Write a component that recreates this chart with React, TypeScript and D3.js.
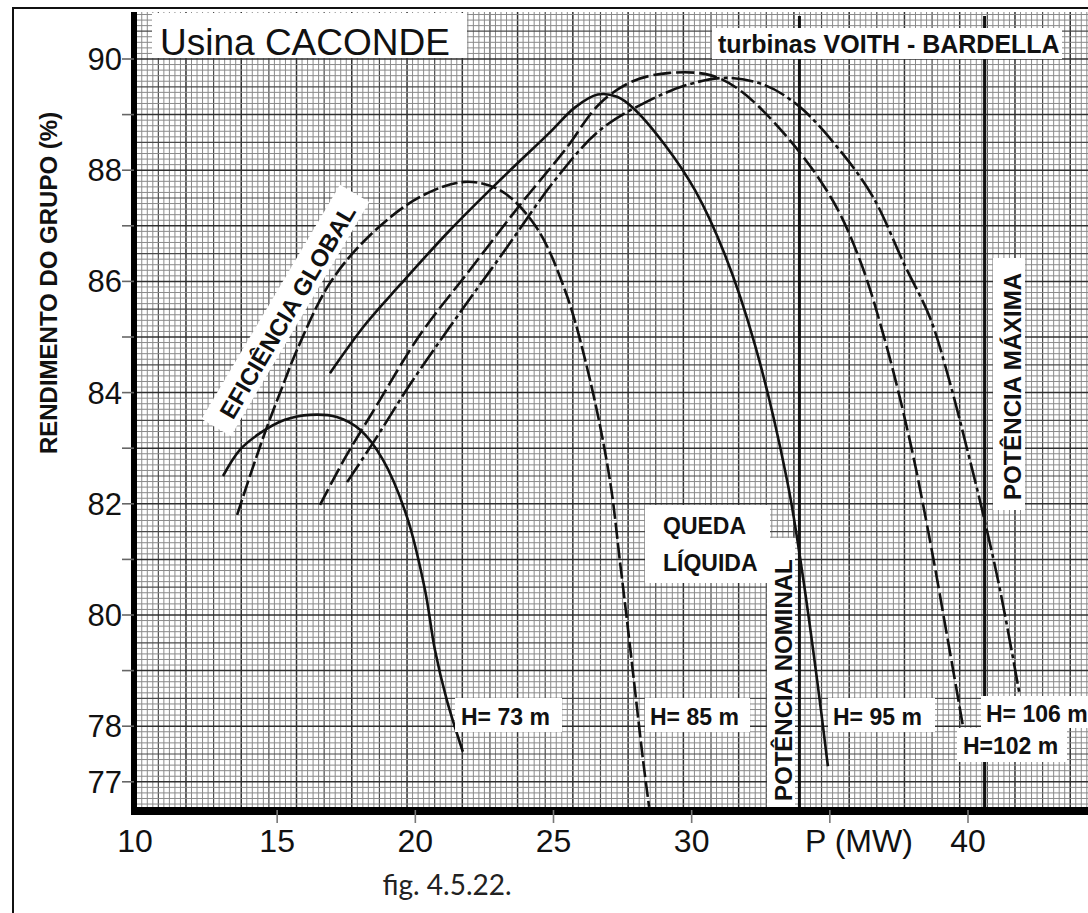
import React from 'react';
import * as d3 from 'd3';

// efficiency curves [P (MW), rendimento (%)]
const h73: [number, number][] = [
  [13.04, 82.5], [13.65, 82.97], [14.38, 83.27], [15.28, 83.51], [16.19, 83.6],
  [17.16, 83.56], [18.0, 83.33], [18.83, 82.79], [19.7, 81.76], [20.35, 80.45],
  [20.71, 79.37], [21.14, 78.47], [21.72, 77.54],
];
const h85: [number, number][] = [
  [13.55, 81.8], [14.09, 82.61], [14.63, 83.38], [15.17, 84.08], [15.72, 84.77],
  [16.91, 85.97], [18.36, 86.83], [20.17, 87.52], [21.79, 87.79], [23.06, 87.64],
  [24.33, 87.01], [25.41, 85.85], [26.32, 84.23], [27.04, 82.43], [27.41, 80.94],
  [27.7, 79.73], [27.99, 78.47], [28.24, 77.39], [28.46, 76.55],
];
const h95: [number, number][] = [
  [16.91, 84.35], [18.18, 85.22], [19.45, 85.94], [21.25, 86.92], [23.06, 87.82],
  [24.87, 88.68], [25.78, 89.13], [26.6, 89.36], [27.3, 89.32], [27.88, 89.12],
  [29.04, 88.45], [30.12, 87.64], [31.21, 86.47], [32.29, 84.86], [33.45, 82.43],
  [33.99, 80.81], [34.54, 78.83], [34.93, 77.28],
];
const h102: [number, number][] = [
  [16.55, 81.98], [17.45, 82.82], [18.54, 83.72], [20.17, 85.04], [21.98, 86.21],
  [23.78, 87.37], [25.41, 88.36], [26.68, 89.2], [27.87, 89.6], [29.21, 89.75],
  [30.66, 89.71], [31.74, 89.44], [33.55, 88.54], [35.1, 87.46], [36.09, 86.38],
  [36.99, 84.95], [37.89, 83.15], [38.62, 81.35], [39.27, 79.55], [39.81, 78.02],
];
const h106: [number, number][] = [
  [17.53, 82.39], [18.54, 83.15], [19.8, 84.14], [21.43, 85.31], [23.24, 86.56],
  [25.05, 87.82], [26.68, 88.72], [28.49, 89.26], [29.94, 89.55], [31.28, 89.66],
  [32.65, 89.53], [33.91, 89.14], [35.36, 88.36], [36.56, 87.52], [37.71, 86.29],
  [38.63, 85.34], [39.35, 84.17], [39.96, 83.0], [40.54, 81.83], [41.16, 80.45],
  [41.85, 78.62],
];

const potNominal = 33.9;
const potMaxima = 40.6;

const xTickValues = [15, 20, 25, 30, 35, 40];
const xTickLabels = ['10', '15', '20', '25', '30', '40'];
const xLabelValues = [10, 15, 20, 25, 30, 40];
const yTickValues = d3.range(77, 91);
const yLabelValues = [77, 78, 80, 82, 84, 86, 88, 90];

const headLabels = ['H= 73 m', 'H= 85 m', 'H= 95 m', 'H= 106 m', 'H=102 m'];

export default function App() {
  const width = 1088;
  const height = 913;

  const x = d3.scaleLinear().domain([10, 40]).range([139, 968]);
  const y = d3.scaleLinear().domain([80, 90]).range([615, 59]);

  const left = 136;
  const right = 1088;
  const top = 12;
  const bottom = 810;

  const line = d3
    .line<[number, number]>()
    .x(d => x(d[0]))
    .y(d => y(d[1]))
    .curve(d3.curveCatmullRom.alpha(0.5));

  // graph paper (mm grid)
  const vLines = d3.range(0, 180).map(i => ({ v: 9.9 + 0.2 * i, i }))
    .filter(d => x(d.v) > left && x(d.v) < right);
  const hLines = d3.range(0, 150).map(j => ({ v: 76.5 + 0.1 * j, j }))
    .filter(d => y(d.v) > top && y(d.v) < bottom);

  const vStyle = (i: number) =>
    i % 10 === 9 ? { s: '#303030', w: 1.5 } : i % 5 === 4 ? { s: '#4a4a4a', w: 1.2 } : { s: '#8a8a8a', w: 1 };
  const hStyle = (j: number) =>
    j % 10 === 5 ? { s: '#303030', w: 1.5 } : j % 5 === 0 ? { s: '#4a4a4a', w: 1.2 } : { s: '#8a8a8a', w: 1 };

  const font = '"Liberation Sans", Arial, sans-serif';
  const curveStyle = { fill: 'none', stroke: '#111', strokeWidth: 2.6 };

  return (
    <svg width={width} height={height} style={{ position: 'absolute', left: 0, top: 0 }}>
      <rect x={0} y={0} width={width} height={height} fill="#fff" />
      <rect x={13} y={8} width={1100} height={940} fill="none" stroke="#111" strokeWidth={2} />

      <g>
        {vLines.map(d => {
          const st = vStyle(d.i);
          return <line key={'v' + d.i} x1={x(d.v)} x2={x(d.v)} y1={top} y2={bottom} stroke={st.s} strokeWidth={st.w} />;
        })}
        {hLines.map(d => {
          const st = hStyle(d.j);
          return <line key={'h' + d.j} x1={left} x2={right} y1={y(d.v)} y2={y(d.v)} stroke={st.s} strokeWidth={st.w} />;
        })}
      </g>

      {/* potência nominal / máxima */}
      <line x1={x(potNominal)} x2={x(potNominal)} y1={top + 4} y2={bottom} stroke="#111" strokeWidth={3} />
      <line x1={x(potMaxima)} x2={x(potMaxima)} y1={top + 4} y2={bottom} stroke="#111" strokeWidth={3} />

      <path d={line(h73) || ''} {...curveStyle} />
      <path d={line(h85) || ''} {...curveStyle} strokeDasharray="16 4" />
      <path d={line(h95) || ''} {...curveStyle} />
      <path d={line(h102) || ''} {...curveStyle} strokeDasharray="18 5" />
      <path d={line(h106) || ''} {...curveStyle} strokeDasharray="22 4 4 4" />

      {/* labels on white boxes */}
      <g fontFamily={font} fill="#111">
        <rect x={152} y={13} width={315} height={45} fill="#fff" />
        <text x={160} y={55} fontSize={37}>Usina CACONDE</text>

        <rect x={712} y={28} width={350} height={31} fill="#fff" />
        <text x={718} y={53} fontSize={25} fontWeight="bold">turbinas VOITH - BARDELLA</text>

        <g transform="translate(288,312) rotate(-59.4)">
          <rect x={-136} y={-20} width={272} height={34} fill="#fff" />
          <text x={0} y={8} fontSize={24} fontWeight="bold" textAnchor="middle">EFICIÊNCIA GLOBAL</text>
        </g>

        <rect x={645} y={505} width={125} height={78} fill="#fff" />
        <text x={663} y={534} fontSize={23} fontWeight="bold">QUEDA</text>
        <text x={663} y={571} fontSize={23} fontWeight="bold">LÍQUIDA</text>

        <rect x={767} y={538} width={28} height={bottom - 538} fill="#fff" />
        <text transform="translate(792,801) rotate(-90)" fontSize={24} fontWeight="bold">POTÊNCIA NOMINAL</text>

        <rect x={993} y={258} width={32} height={252} fill="#fff" />
        <text transform="translate(1021,500) rotate(-90)" fontSize={24} fontWeight="bold">POTÊNCIA MÁXIMA</text>

        <rect x={455} y={698} width={107} height={34} fill="#fff" />
        <text x={461} y={725} fontSize={23} fontWeight="bold">{headLabels[0]}</text>
        <rect x={645} y={698} width={105} height={34} fill="#fff" />
        <text x={650} y={725} fontSize={23} fontWeight="bold">{headLabels[1]}</text>
        <rect x={828} y={698} width={107} height={34} fill="#fff" />
        <text x={833} y={725} fontSize={23} fontWeight="bold">{headLabels[2]}</text>
        <rect x={981} y={696} width={110} height={32} fill="#fff" />
        <text x={986} y={722} fontSize={23} fontWeight="bold">{headLabels[3]}</text>
        <rect x={957} y={728} width={110} height={34} fill="#fff" />
        <text x={963} y={754} fontSize={23} fontWeight="bold">{headLabels[4]}</text>
      </g>

      {/* axes */}
      <rect x={131} y={top} width={6} height={bottom - top + 5} fill="#000" />
      <rect x={131} y={bottom - 3} width={right - 131} height={8} fill="#000" />

      {yTickValues.map(v => (
        <line key={'yt' + v} x1={122} x2={134} y1={y(v)} y2={y(v)} stroke="#666" strokeWidth={1.6} />
      ))}
      {xTickValues.map(v => (
        <line key={'xt' + v} x1={x(v)} x2={x(v)} y1={bottom} y2={bottom + 13} stroke="#777" strokeWidth={1.6} />
      ))}

      <g fontFamily={font} fill="#111">
        {yLabelValues.map(v => (
          <text key={'yl' + v} x={122} y={y(v) + 11} fontSize={31} textAnchor="end">{v}</text>
        ))}
        {xLabelValues.map((v, i) => (
          <text key={'xl' + v} x={x(v) - (i === 0 ? 4 : 0)} y={852} fontSize={32} textAnchor="middle">{xTickLabels[i]}</text>
        ))}
        <text x={805} y={852} fontSize={32}>P (MW)</text>
        <text transform="translate(57,283) rotate(-90)" fontSize={24} fontWeight="bold" textAnchor="middle">
          RENDIMENTO DO GRUPO (%)
        </text>
      </g>

      <text x={447} y={895} fontFamily="Lato, 'Open Sans', sans-serif" fontSize={28} fill="#222" textAnchor="middle">
        fig. 4.5.22.
      </text>
    </svg>
  );
}
